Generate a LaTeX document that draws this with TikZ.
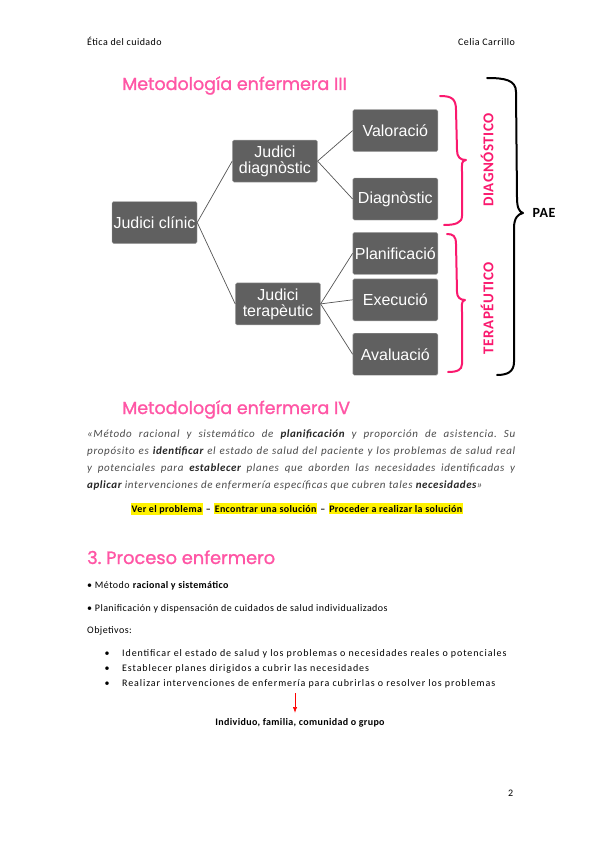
\documentclass[tikz,border=0pt]{standalone}
\usepackage{fontspec}
\setmainfont{Carlito}[LetterSpace=4.5, ItalicFeatures={LetterSpace=6}, BoldFeatures={LetterSpace=3.5}, BoldItalicFeatures={LetterSpace=5}]
\newfontfamily\boxfont{Liberation Sans}
\newfontfamily\headfont{Poppins}[FakeBold=1.2]
\usetikzlibrary{positioning, arrows.meta}

\definecolor{headpink}{RGB}{255,85,165}
\definecolor{bracepink}{RGB}{250,25,110}
\definecolor{boxgray}{RGB}{96,96,96}
\definecolor{linkgray}{RGB}{85,85,85}
\definecolor{quotegray}{RGB}{75,75,75}
\newcommand{\kw}[1]{\textcolor{black!85}{\textbf{#1}}}

\begin{document}
\frenchspacing
\begin{tikzpicture}[x=1pt, y=-1pt, >=Latex, font=\fontsize{10}{12}\selectfont,
	box/.style={draw=gray!70, fill=boxgray, rounded corners=1.5pt, minimum width=85pt, minimum height=42pt, inner sep=1pt, align=center, text=white, font=\boxfont\fontsize{16}{16}\selectfont},
	link/.style={draw=linkgray, line width=0.7pt},
	heading/.style={anchor=base west, inner sep=0pt, text=headpink, font=\headfont\fontsize{17.5}{19}\selectfont},
	brace/.style={line width=2pt, line cap=round, line join=round},
	side/.style={rotate=90, inner sep=0pt, text=bracepink, font=\bfseries\fontsize{15}{16}\selectfont},
	hl/.style={fill=yellow, inner xsep=0.5pt, inner ysep=1.5pt, anchor=base west, font=\bfseries},
	line/.style={anchor=base west, inner sep=0pt},
	objective/.style={line, font=\fontsize{10}{12}\selectfont\addfontfeatures{LetterSpace=9}}]

	\useasboundingbox[fill=white] (0,0) rectangle (599,848);

	% cabecera
	\node[line] (course) at (87,46) {Ética del cuidado};
	\node[anchor=base east, inner sep=0pt] (author) at (515,46) {Celia Carrillo};

	\node[heading] (title3) at (122,90) {Metodología enfermera III};

	% esquema de juicios
	\node[box] (clinic) at (154.5,222.5) {Judici clínic};
	\node[box, above right=19pt and 35pt of clinic] (jdiag) {Judici\\diagnòstic};
	\node[box, below right=39pt and 38pt of clinic] (jterap) {Judici\\terapèutic};

	\node[box, right=35pt of jdiag, yshift=30.5pt] (valor) {Valoració};
	\node[box, below=26pt of valor] (diagn) {Diagnòstic};
	\node[box, below=12pt of diagn] (planif) {Planificació};
	\node[box, below=4pt of planif] (execu) {Execució};
	\node[box, below=12pt of execu] (avalu) {Avaluació};

	\draw[link] (clinic.east) -- (jdiag.west);
	\draw[link] (clinic.east) -- (jterap.west);
	\draw[link] (jdiag.east) -- (valor.west);
	\draw[link] (jdiag.east) -- (diagn.west);
	\draw[link] (jterap.east) -- (planif.west);
	\draw[link] (jterap.east) -- (execu.west);
	\draw[link] (jterap.east) -- (avalu.west);

	% llaves
	\draw[brace, bracepink] (440,96) .. controls (452,96) and (456,99) .. (456,110) -- (457,150)
		.. controls (457,157) and (460,160) .. (466,160) .. controls (461,161) and (462,164) .. (462,172)
		-- (462,216) .. controls (462,223) and (455,225) .. (444,225);
	\draw[brace, bracepink] (447,234) .. controls (453,234) and (456,236) .. (456,244) -- (457,292)
		.. controls (457,297) and (460,300) .. (465,300) .. controls (461,301) and (462,305) .. (462,312)
		-- (462,364) .. controls (462,370) and (457,372) .. (448,372);
	\draw[brace, black] (487,78) .. controls (505,78) and (516,80) .. (516,92) -- (517,198)
		.. controls (517,207) and (519,212) .. (523,213) .. controls (518,214) and (514,218) .. (514,228)
		-- (514,362) .. controls (514,372) and (507,375) .. (497,375);

	\node[side] (diagtxt) at (487,160) {DIAGNÓSTICO};
	\node[side] (tertxt) at (487,308) {TERAPÉUTICO};
	\node[font=\bfseries\fontsize{14}{16}\selectfont, inner sep=0pt] (pae) at (544,213) {PAE};

	\node[heading] (title4) at (122,414) {Metodología enfermera IV};

	% definicion
	\node[anchor=north west, inner sep=0pt, text width=428pt, align=justify, text=quotegray,
		font=\itshape\fontsize{11}{16.7}\selectfont] (quote) at (87,430)
		{«Método racional y sistemático de \kw{planificación} y proporción de asistencia. Su\linebreak
		propósito es \kw{identificar} el estado de salud del paciente y los problemas de salud real\linebreak
		y potenciales para \kw{establecer} planes que aborden las necesidades identificadas y\linebreak
		\kw{aplicar} intervenciones de enfermería específicas que cubren tales \kw{necesidades}»};

	\node[hl] (stepA) at (131,512) {Ver el problema};
	\node[line, font=\bfseries, base right=3pt of stepA] (dashA) {--};
	\node[hl, base right=3pt of dashA] (stepB) {Encontrar una solución};
	\node[line, font=\bfseries, base right=3pt of stepB] (dashB) {--};
	\node[hl, base right=3pt of dashB] (stepC) {Proceder a realizar la solución};

	\node[heading, font=\headfont\fontsize{17.8}{19}\selectfont] (title5) at (87,564) {3. Proceso enfermero};

	\node[line] (item1) at (87,588) {• Método \textbf{racional y sistemático}};
	\node[line] (item2) at (87,611) {• Planificación y dispensación de cuidados de salud individualizados};
	\node[line] (objs) at (87,633) {Objetivos:};

	\node[objective] (obj1) at (122,656) {Identificar el estado de salud y los problemas o necesidades reales o potenciales};
	\node[objective] (obj2) at (122,671) {Establecer planes dirigidos a cubrir las necesidades};
	\node[objective] (obj3) at (122,686) {Realizar intervenciones de enfermería para cubrirlas o resolver los problemas};
	\node[anchor=base, inner sep=0pt] (dot1) at (107,656) {\textbullet};
	\node[anchor=base, inner sep=0pt] (dot2) at (107,671) {\textbullet};
	\node[anchor=base, inner sep=0pt] (dot3) at (107,686) {\textbullet};

	\coordinate (arrowtop) at (295,693);
	\node[anchor=base, inner sep=0pt, font=\bfseries] (target) at (300,725) {Individuo, familia, comunidad o grupo};
	\draw[->, red, line width=0.6pt, shorten >=5pt] (arrowtop) -- (arrowtop |- target.north);

	\node[line] (pagenum) at (508,796) {2};
\end{tikzpicture}
\end{document}
